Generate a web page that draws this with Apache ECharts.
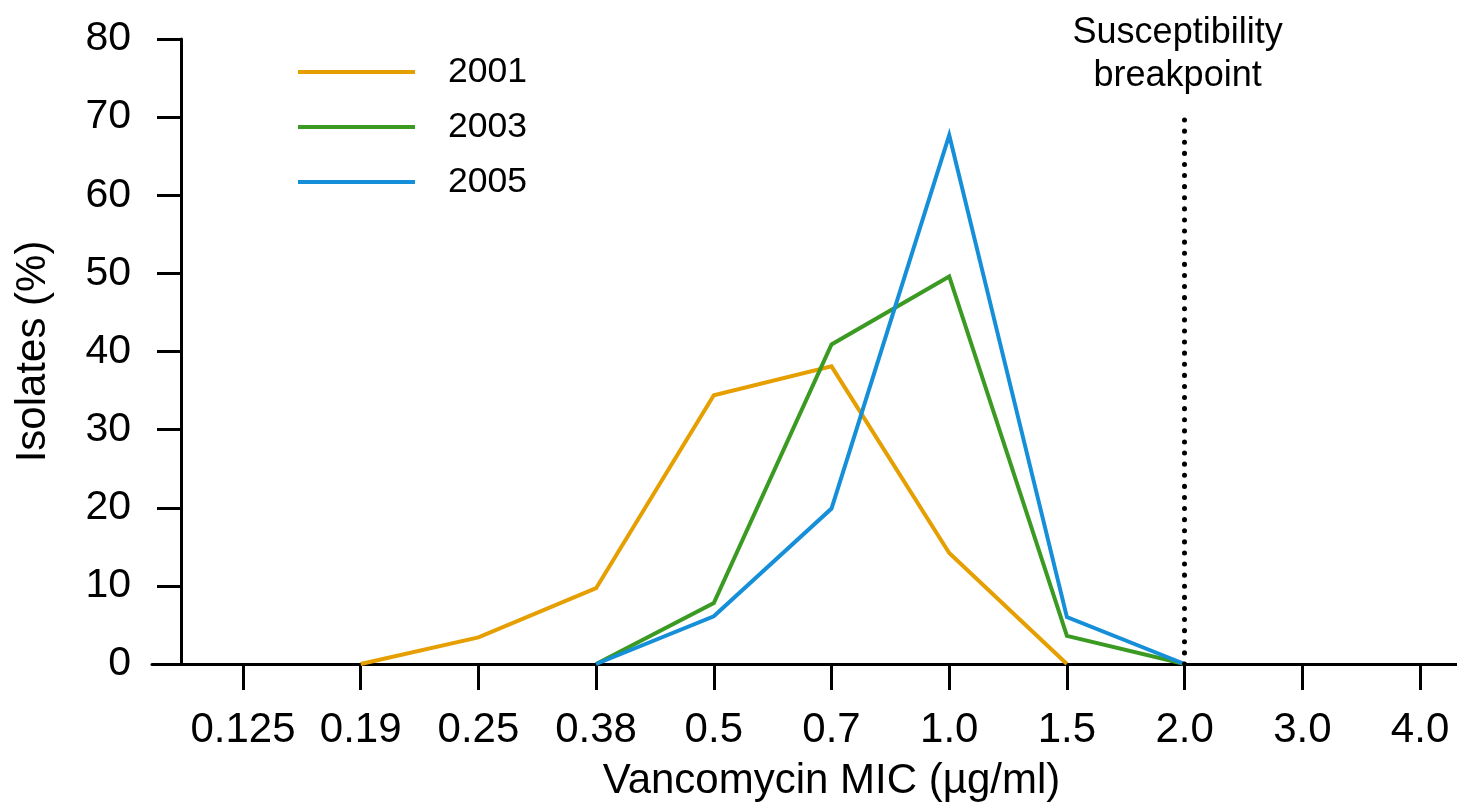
<!DOCTYPE html>
<html>
<head>
<meta charset="utf-8">
<script src="https://cdn.jsdelivr.net/npm/echarts@6/dist/echarts.min.js"></script>
<style>
  html, body { margin: 0; padding: 0; background: #fff; }
  #chart { width: 1457px; height: 809px; }
</style>
</head>
<body>
<div id="chart"></div>
<script>
// Vancomycin MIC categories (µg/ml)
const micCategories = ['0.125', '0.19', '0.25', '0.38', '0.5', '0.7', '1.0', '1.5', '2.0', '3.0', '4.0'];

// Percentage of isolates at each MIC, per year (null = no point drawn)
const isolates2001 = [null, 0, 3.4, 9.7, 34.4, 38.1, 14.2, 0, null, null, null];
const isolates2003 = [null, null, null, 0, 7.8, 40.9, 49.6, 3.6, 0, null, null];
const isolates2005 = [null, null, null, 0, 6.1, 19.9, 67.7, 6.0, 0, null, null];

const yearNames = ['2001', '2003', '2005'];
const yearColors = ['#E69F00', '#3A9A22', '#168FD9'];

// Susceptibility breakpoint: MIC 2.0
const breakpointMic = '2.0';
const breakpointTop = 70.7;

const FONT = '"Liberation Sans", Arial, Helvetica, sans-serif';

function toPairs(values) {
  return values.map((v, i) => [i, v]);
}

const tickIndices = micCategories.map((_, i) => i);
const breakpointIndex = micCategories.indexOf(breakpointMic);

const chart = echarts.init(document.getElementById('chart'), null, { renderer: 'canvas' });

const seriesValues = [isolates2001, isolates2003, isolates2005];

const series = seriesValues.map((vals, k) => ({
  name: yearNames[k],
  type: 'line',
  data: toPairs(vals),
  showSymbol: false,
  symbol: 'none',
  connectNulls: false,
  lineStyle: { color: yearColors[k], width: 4, join: 'miter' },
  itemStyle: { color: yearColors[k] },
  z: 3
}));

series.push({
  name: 'breakpoint',
  type: 'line',
  data: [],
  symbol: 'none',
  markLine: {
    silent: true,
    symbol: ['none', 'none'],
    animation: false,
    lineStyle: { color: '#000', width: 5, type: [0.1, 11], cap: 'round' },
    label: {
      show: true,
      position: 'end',
      formatter: 'Susceptibility\nbreakpoint',
      fontFamily: FONT,
      fontSize: 36,
      lineHeight: 43,
      color: '#000',
      distance: 14,
      padding: [0, 14, 0, 0]
    },
    data: [[
      { coord: [breakpointIndex, 0] },
      { coord: [breakpointIndex, breakpointTop] }
    ]]
  }
});

const option = {
  animation: false,
  backgroundColor: '#fff',
  grid: { left: 152, right: 0, top: 39, bottom: 145, containLabel: false },
  legend: {
    data: yearNames,
    orient: 'vertical',
    left: 298,
    top: 54,
    padding: 0,
    itemWidth: 117,
    itemHeight: 36,
    itemGap: 19,
    icon: 'path://M0,0 L117,0 L117,4 L0,4 Z',
    textStyle: { fontFamily: FONT, fontSize: 35.5, color: '#000', padding: [0, 0, 0, 28] }
  },
  xAxis: {
    type: 'value',
    min: -0.773,
    max: 10.314,
    name: 'Vancomycin MIC (µg/ml)',
    nameLocation: 'middle',
    nameGap: 96,
    nameTextStyle: { fontFamily: FONT, fontSize: 42, color: '#000', padding: [0, 0, 0, 54] },
    axisLine: { show: true, onZero: false, lineStyle: { color: '#000', width: 3 } },
    axisTick: { show: true, customValues: tickIndices, length: 26, lineStyle: { color: '#000', width: 3 } },
    axisLabel: {
      customValues: tickIndices,
      formatter: v => micCategories[Math.round(v)] ?? '',
      fontFamily: FONT,
      fontSize: 42,
      color: '#000',
      margin: 45
    },
    splitLine: { show: false }
  },
  yAxis: {
    type: 'value',
    min: 0,
    max: 80,
    interval: 10,
    offset: -29,
    name: 'Isolates (%)',
    nameLocation: 'middle',
    nameGap: 127,
    nameRotate: 90,
    nameTextStyle: { fontFamily: FONT, fontSize: 42, color: '#000' },
    axisLine: { show: true, onZero: false, lineStyle: { color: '#000', width: 3 } },
    axisTick: { show: true, length: 24, lineStyle: { color: '#000', width: 3 } },
    axisLabel: { fontFamily: FONT, fontSize: 41, color: '#000', margin: 50 },
    splitLine: { show: false }
  },
  series: series
};

chart.setOption(option);
</script>
</body>
</html>
